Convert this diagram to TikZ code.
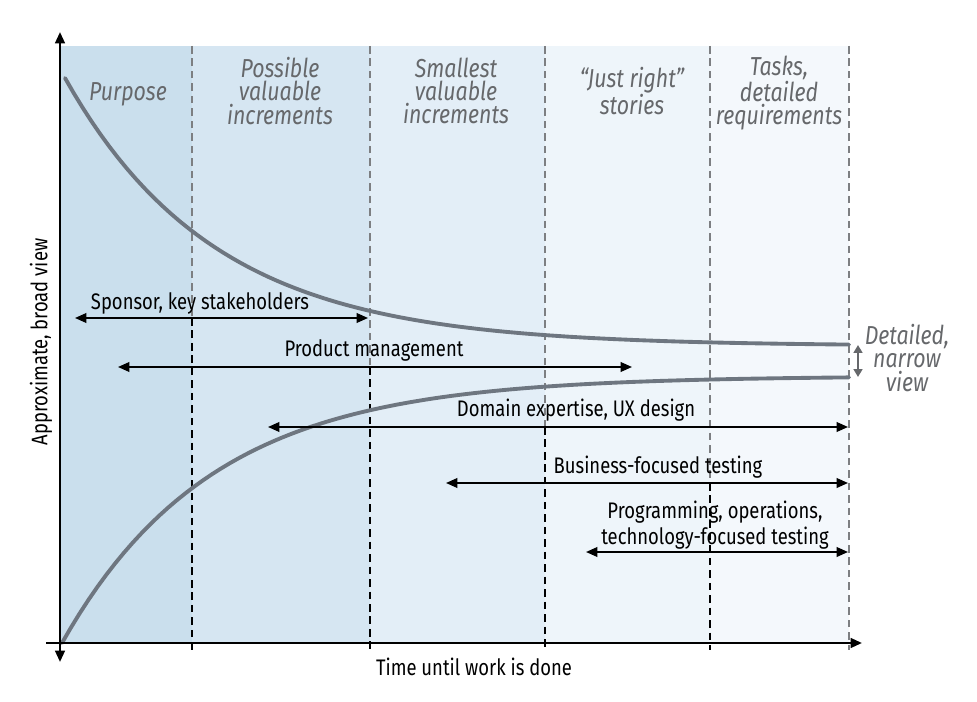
\documentclass[tikz,border=0pt]{standalone}
\usepackage{fontspec}
\setmainfont{Fira Sans}[FakeStretch=0.82]
\usepackage{tikz}
\usetikzlibrary{arrows.meta}
\definecolor{colA}{HTML}{CADFED}
\definecolor{colB}{HTML}{D6E6F2}
\definecolor{colC}{HTML}{E3EEF7}
\definecolor{colD}{HTML}{EEF5FA}
\definecolor{colE}{HTML}{F4F8FC}
\definecolor{hdr}{HTML}{66686B}
\definecolor{crv}{HTML}{6E7680}
\definecolor{sep}{HTML}{7D7F82}

\begin{document}
\begin{tikzpicture}[x=0.02cm, y=-0.02cm,
    header/.style={font=\fontsize{14.8}{13.2}\selectfont\itshape, text=hdr, align=center, inner sep=0pt},
    role/.style={font=\fontsize{12.8}{15}\selectfont, align=center, inner sep=0pt},
    spanarrow/.style={{Triangle[length=6.5pt,width=5.5pt]}-{Triangle[length=6.5pt,width=5.5pt]}, line width=1.1pt},
    axis/.style={-{Triangle[length=6.5pt,width=5.5pt]}, line width=1.4pt},
    trend/.style={crv, line width=2.2pt, line cap=round},
    sepgray/.style={sep, line width=1.3pt, dash pattern=on 4.3pt off 2.8pt},
    sepblack/.style={black, line width=1.3pt, dash pattern=on 4.3pt off 2.8pt}]

    \useasboundingbox (0,0) rectangle (977,702);

    % Shaded columns
    \fill[colA] (60,46) rectangle (192,643);
    \fill[colB] (192,46) rectangle (370,643);
    \fill[colC] (370,46) rectangle (545,643);
    \fill[colD] (545,46) rectangle (710,643);
    \fill[colE] (710,46) rectangle (849,643);

    % Column separators: gray above the first arrow, black below
    \draw[sepgray] (192,46) -- (192,318);
    \draw[sepblack] (192,318) -- (192,650);
    \draw[sepgray] (370,46) -- (370,367);
    \draw[sepblack] (370,367) -- (370,650);
    \draw[sepgray] (545,46) -- (545,427);
    \draw[sepblack] (545,427) -- (545,650);
    \draw[sepgray] (710,46) -- (710,483);
    \draw[sepblack] (710,483) -- (710,650);
    \draw[sepgray] (849,46) -- (849,650);

    % Column headers
    \node[header] (purpose) at (128,94) {Purpose};
    \node[header] (possible) at (280,91) {Possible\\valuable\\increments};
    \node[header] (smallest) at (456,91) {Smallest\\valuable\\increments};
    \node[header] (justright) at (632,91) {“Just right”\\stories};
    \node[header] (tasks) at (779,93) {Tasks,\\detailed\\requirements};

    % Broad view narrowing to detailed view
    \draw[trend] plot[domain=65:849, samples=90] (\x, {346-268*exp(-(\x-65)/150)});
    \draw[trend] plot[domain=62:849, samples=90] (\x, {376+267*exp(-(\x-62)/150)});

    % Axes
    \coordinate (ytop) at (60,32);
    \coordinate (ybot) at (60,662);
    \coordinate (xleft) at (46,643);
    \coordinate (xright) at (862,643);
    \draw[axis] (xleft) -- (xright);
    \draw[axis, {Triangle[length=6.5pt,width=5.5pt]}-{Triangle[length=6.5pt,width=5.5pt]}] (ytop) -- (ybot);
    \node[role, rotate=90] (ylabel) at (41,342) {Approximate, broad view};
    \node[role] (xlabel) at (474,667) {Time until work is done};

    % Detailed, narrow view
    \coordinate (narrowtop) at (858,345);
    \coordinate (narrowbot) at (858,377);
    \draw[hdr, line width=1.3pt, {Triangle[length=4.5pt,width=5pt]}-{Triangle[length=4.5pt,width=5pt]}] (narrowtop) -- (narrowbot);
    \node[header, font=\fontsize{14.8}{13.5}\selectfont\itshape] (narrow) at (907,358) {Detailed,\\narrow\\view};

    % Who is involved, and when
    \coordinate (sponsorL) at (75,318);
    \coordinate (sponsorR) at (368,318);
    \draw[spanarrow] (sponsorL) -- (sponsorR);
    \node[role, anchor=base] (sponsor) at (200,310) {Sponsor, key stakeholders};

    \coordinate (productL) at (118,367);
    \coordinate (productR) at (632,367);
    \draw[spanarrow] (productL) -- (productR);
    \node[role, anchor=base] (product) at (374,357) {Product management};

    \coordinate (domainL) at (268,427);
    \coordinate (domainR) at (848,427);
    \draw[spanarrow] (domainL) -- (domainR);
    \node[role, anchor=base] (domain) at (576,417) {Domain expertise, UX design};

    \coordinate (businessL) at (446,483);
    \coordinate (businessR) at (848,483);
    \draw[spanarrow] (businessL) -- (businessR);
    \node[role, anchor=base] (business) at (658,473) {Business-focused testing};

    \coordinate (progL) at (586,552);
    \coordinate (progR) at (848,552);
    \draw[spanarrow] (progL) -- (progR);
    \node[role] (prog) at (715,525) {Programming, operations,\\technology-focused testing};

\end{tikzpicture}
\end{document}
